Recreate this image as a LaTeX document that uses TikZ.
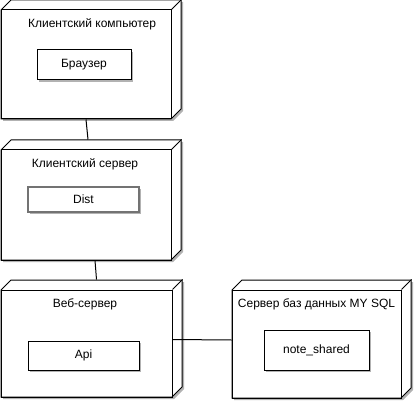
\documentclass[tikz,border=0pt]{standalone}
\usepackage{fontspec}
\setmainfont{Liberation Sans}
\usetikzlibrary{shadows}
\def\device(#1)(#2,#3)(#4,#5){%
	\fill[black!30] (#2+2,#3+2) -- (#2+12,#3-8) -- (#4+12,#3-8) -- (#4+12,#5-8) -- (#4+2,#5+2) -- (#2+2,#5+2) -- cycle;
	\filldraw[fill=white, line width=1pt] (#2,#3) -- (#2+10,#3-10) -- (#4+10,#3-10) -- (#4+10,#5-10) -- (#4,#5) -- (#2,#5) -- cycle;
	\node[devbox, minimum width={#4-#2}, minimum height={#5-#3}] (#1) at ({(#2+#4)/2}, {(#3+#5)/2}) {};
	\draw[line width=1pt] (#1.north east) -- ++(10,-10);}

\begin{document}
\begin{tikzpicture}[x=1pt, y=-1pt, font=\fontsize{12}{14}\selectfont,
	devbox/.style={draw, line width=1pt, inner sep=0pt},
	devtitle/.style={inner sep=0pt, anchor=base},
	part/.style={draw, fill=white, line width=1pt, inner sep=0pt, drop shadow={shadow xshift=2pt, shadow yshift=-2pt, fill=black, opacity=0.3}},
	link/.style={line width=1pt}]
		%%%%% START %%%%%
		\useasboundingbox (0, 0) rectangle (414, 403);
		
		\device(pc)(1, 10)(171, 119)
		\device(cs)(1, 150)(171, 260)
		\device(web)(1, 290)(172, 397)
		\device(db)(232, 290)(401, 398)
		
		\node[devtitle] (pc-t) at (92, 27.5) {Клиентский компьютер};
		\node[devtitle] (cs-t) at (85, 167.5) {Клиентский сервер};
		\node[devtitle] (web-t) at (85, 307.5) {Веб-сервер};
		\node[devtitle] (db-t) at (316.5, 307.5) {Сервер баз данных MY SQL};
		
		\node[part, minimum width=94, minimum height=30] (brw) at (84, 65) {Браузер};
		\node[part, draw=black!55, line width=1.5pt, minimum width=111, minimum height=25] (dist) at (83.5, 199.5) {Dist};
		\node[part, minimum width=111, minimum height=29] (api) at (83.5, 355.5) {Api};
		\node[part, minimum width=105, minimum height=40] (note) at (316.5, 350) {note\_shared};
		
		\draw[link] (pc.south) -- ([shift={(2,-10)}]cs.north);
		\draw[link] ([xshift=9pt]cs.south) -- ([shift={(10,-10)}]web.north);
		\draw[link] ([yshift=4pt]web.east) -- ([yshift=4pt]db.west);
		
		%%%%% END %%%%%
\end{tikzpicture}
\end{document}
